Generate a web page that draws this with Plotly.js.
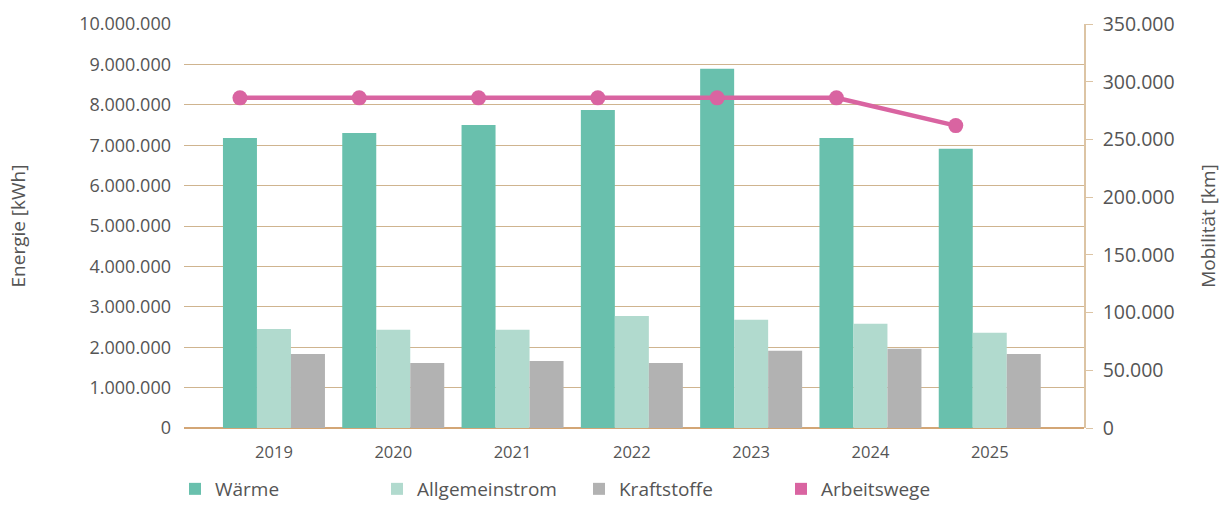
<!DOCTYPE html>
<html>
<head>
<meta charset="utf-8">
<script src="https://cdn.plot.ly/plotly-3.0.1.min.js"></script>
<style>html,body{margin:0;padding:0;background:#fff;}#chart{width:1228px;height:509px;}</style>
</head>
<body>
<div id="chart"></div>
<script>
const years = [2019, 2020, 2021, 2022, 2023, 2024, 2025];
const waerme = [7180000, 7300000, 7500000, 7870000, 8890000, 7180000, 6910000];
const allgemeinstrom = [2450000, 2430000, 2430000, 2770000, 2680000, 2580000, 2360000];
const kraftstoffe = [1830000, 1610000, 1660000, 1610000, 1910000, 1960000, 1830000];
const arbeitswege = [286000, 286000, 286000, 286000, 286000, 286000, 262000];

const colors = {waerme:'#69c0ad', allg:'#b1dace', kraft:'#b2b2b2', line:'#d964a1'};
const grid = '#cfb48f';
const textColor = '#555555';
const FONT = '"Open Sans", Lato, sans-serif';

const bargap = 0.145;
const barW = (1 - bargap) / 3;
// line points sit above the first bar (Wärme) of each group
const lineX = years.map(y => y - barW);

const traces = [
  {type:'bar', name:'Wärme', x:years, y:waerme, marker:{color:colors.waerme}, offsetgroup:'g1'},
  {type:'bar', name:'Allgemeinstrom', x:years, y:allgemeinstrom, marker:{color:colors.allg}, offsetgroup:'g2'},
  {type:'bar', name:'Kraftstoffe', x:years, y:kraftstoffe, marker:{color:colors.kraft}, offsetgroup:'g3'},
  {type:'scatter', mode:'lines+markers', name:'Arbeitswege', x:lineX, y:arbeitswege, yaxis:'y2',
   line:{color:colors.line, width:4.5}, marker:{color:colors.line, size:15},
   legendgroup:'aw', showlegend:false},
  // legend entry only (square swatch like the reference), shares the Wärme slot so it takes no space
  {type:'bar', name:'Arbeitswege', x:[years[0]], y:[null], marker:{color:colors.line}, offsetgroup:'g1',
   legendgroup:'aw', showlegend:true, hoverinfo:'skip'}
];

const layout = {
  width:1228, height:509,
  margin:{l:184, r:144, t:24, b:81},
  paper_bgcolor:'#fff', plot_bgcolor:'#fff',
  separators:',.',
  barmode:'group', bargap:bargap, bargroupgap:0,
  font:{family:FONT, color:textColor, size:17},
  showlegend:true,
  legend:{orientation:'h', xref:'container', yref:'container', x:0.1425, xanchor:'left',
          y:0.0393, yanchor:'middle',
          font:{size:19, color:textColor}, entrywidth:157, entrywidthmode:'pixels', traceorder:'normal'},
  xaxis:{type:'linear', range:[2018.246, 2025.79], tickvals:years, ticktext:years.map(String),
         showgrid:false, zeroline:false, showline:false, ticks:'', ticklabelstandoff:12,
         tickfont:{size:16.5, color:textColor}, fixedrange:true},
  yaxis:{range:[0, 10000000], dtick:1000000, tickformat:',.0f', showgrid:true, gridcolor:grid, gridwidth:1.3,
         zeroline:true, zerolinecolor:'#d3a676', zerolinewidth:1.5, showline:false, ticks:'',
         ticklabelstandoff:12, tickfont:{size:18, color:textColor},
         title:{text:'Energie [kWh]', font:{size:19, color:textColor}, standoff:48}, automargin:false},
  yaxis2:{overlaying:'y', side:'right', range:[0, 350000], dtick:50000, tickformat:',.0f', showgrid:false,
          zeroline:false, showline:true, linecolor:'#dcc4a4', linewidth:1.5, ticks:'outside', ticklen:7,
          tickcolor:'#dcc4a4', ticklabelstandoff:6, tickfont:{size:19.5, color:textColor},
          title:{text:'Mobilität [km]', font:{size:19, color:textColor}, standoff:28}, automargin:false}
};

Plotly.newPlot('chart', traces, layout, {displayModeBar:false});
</script>
</body>
</html>
